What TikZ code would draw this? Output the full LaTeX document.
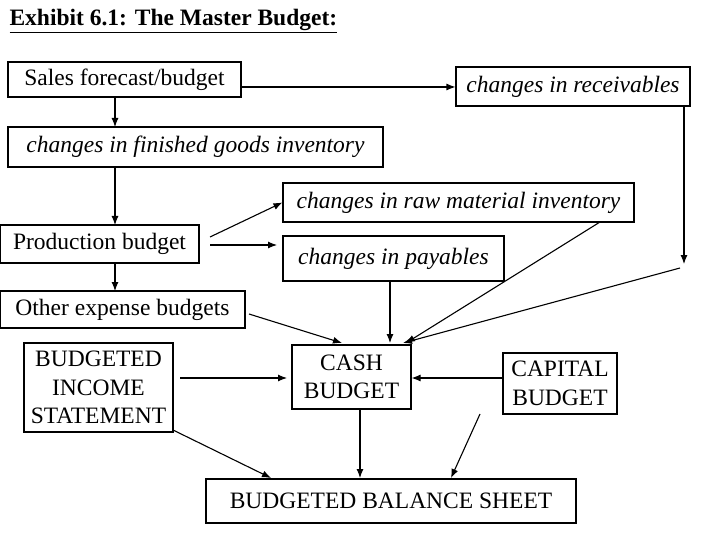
\documentclass[tikz,border=0pt]{standalone}
\usepackage{fontspec}
\usetikzlibrary{arrows.meta}
\setmainfont{Liberation Serif}
\begin{document}
\begin{tikzpicture}[x=1pt,y=-1pt,
  bx/.style={draw,line width=1.1pt,inner sep=0pt,align=center,font=\fontsize{23.5}{28.5}\selectfont},
  it/.style={bx,font=\fontsize{23.5}{28.5}\selectfont\itshape},
  ar/.style={line width=1.1pt,-{Latex[length=9pt,width=7pt]}}]
\useasboundingbox (0,0) rectangle (720,540);
\node[anchor=west,font=\fontsize{23.5}{28}\selectfont\bfseries] (title) at (6,21) {\underline{Exhibit 6.1: The Master Budget:}};
\node[bx,minimum width=233,minimum height=35] (sales) at (124.5,79.5) {Sales forecast/budget};
\node[it,minimum width=234,minimum height=39] (rec) at (573,86.5) {changes in receivables};
\node[it,minimum width=375,minimum height=40] (fg) at (195.5,147) {changes in finished goods inventory};
\node[it,minimum width=351,minimum height=39] (raw) at (458.5,202.5) {changes in raw material inventory};
\node[bx,minimum width=199,minimum height=38] (prod) at (99.5,244) {Production budget};
\node[it,minimum width=221,minimum height=45] (pay) at (393.5,258.5) {changes in payables};
\node[bx,minimum width=245,minimum height=37] (oth) at (122.5,309.5) {Other expense budgets};
\node[bx,minimum width=149,minimum height=89] (inc) at (98.5,387.5) {BUDGETED\\INCOME\\STATEMENT};
\node[bx,minimum width=119,minimum height=64] (cash) at (351.5,377) {CASH\\BUDGET};
\node[bx,minimum width=114,minimum height=61] (cap) at (560,383.5) {CAPITAL\\BUDGET};
\node[bx,minimum width=370,minimum height=44] (bal) at (391,501) {BUDGETED BALANCE SHEET};
\coordinate (rc) at (684,264);
\draw[ar] (sales.east |- 0,87) -- (rec.west |- 0,87);
\draw[ar] (115,97) -- (115,127);
\draw[ar] (115,167) -- (115,225);
\draw[ar] (115,263) -- (115,291);
\draw[ar] (210,237) -- (raw.west);
\draw[ar] (210,245) -- (277,245);
\draw[ar] (684,106) -- (rc);
\draw[ar] (680,268) -- (403,343);
\draw[ar] (600,222) -- (406,343);
\draw[ar] (390,281) -- (390,343);
\draw[ar] (249,314) -- (342,343);
\draw[ar] (180,378) -- (287,378);
\draw[ar] (cap.west |- 0,378) -- (cash.east |- 0,378);
\draw[ar] (173,430) -- (271,478);
\draw[ar] (360,409) -- (360,478);
\draw[ar] (480,414) -- (451,478);
\end{tikzpicture}
\end{document}
